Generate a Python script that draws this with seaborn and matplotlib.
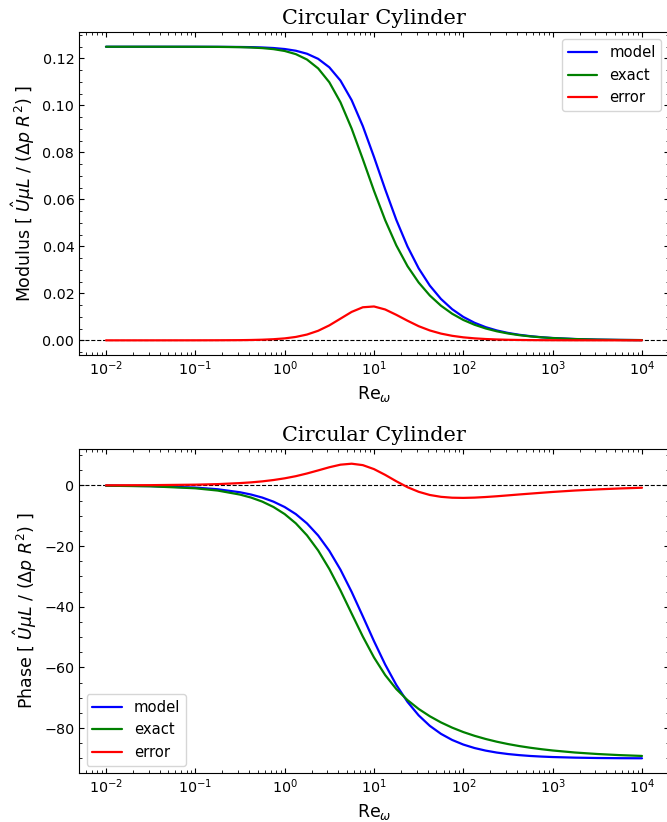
import matplotlib
matplotlib.use("Agg")
import matplotlib.pyplot as plt
from matplotlib.ticker import AutoMinorLocator
import seaborn as sns

sns.set_style("ticks", {"axes.edgecolor": "black", "text.color": "black",
                        "axes.labelcolor": "black", "xtick.color": "black",
                        "ytick.color": "black"})

# Re_omega sample points (log spaced)
re_omega = [0.01, 0.03162, 0.1, 0.1778, 0.3162, 0.4217, 0.5623, 0.7499, 1.0,
            1.334, 1.778, 2.371, 3.162, 4.217, 5.623, 7.499, 10.0, 13.34, 17.78,
            23.71, 31.62, 42.17, 56.23, 74.99, 100.0, 133.4, 177.8, 237.1, 316.2,
            421.7, 562.3, 749.9, 1000.0, 1778.0, 3162.0, 5623.0, 10000.0]

# modulus of U mu L / (dp R^2)
model_mod = [0.125, 0.125, 0.12499, 0.12497, 0.12490, 0.12483, 0.12469, 0.12445,
             0.12403, 0.12330, 0.12202, 0.11985, 0.11625, 0.11058, 0.10226, 0.09120,
             0.07809, 0.06431, 0.05128, 0.03996, 0.03066, 0.02330, 0.01761, 0.01326,
             0.00997, 0.00749, 0.00562, 0.00421, 0.00316, 0.00237, 0.00178, 0.00133,
             0.00100, 0.000562, 0.000316, 0.000178, 0.0001]
exact_mod = [0.125, 0.125, 0.12498, 0.12494, 0.12482, 0.12467, 0.12442, 0.12398,
             0.12320, 0.12185, 0.11955, 0.11578, 0.10988, 0.10134, 0.09015, 0.07712,
             0.06367, 0.05117, 0.04042, 0.03160, 0.02463, 0.01909, 0.01474, 0.01133,
             0.00868, 0.00664, 0.00506, 0.00385, 0.00292, 0.00221, 0.00168, 0.00127,
             0.000956, 0.000544, 0.000308, 0.000175, 0.0000986]
error_mod = [0.0, 0.0, 0.00001, 0.00003, 0.00008, 0.00015, 0.00027, 0.00048,
             0.00083, 0.00145, 0.00247, 0.00407, 0.00637, 0.00924, 0.01211, 0.01408,
             0.01442, 0.01314, 0.01086, 0.00836, 0.00603, 0.00421, 0.00287, 0.00193,
             0.00128, 0.00085, 0.00056, 0.00037, 0.00024, 0.00016, 0.00010, 0.000067,
             0.000044, 0.0000185, 0.0000078, 0.0000033, 0.0000014]

# phase in degrees
model_phase = [-0.07, -0.23, -0.72, -1.27, -2.26, -3.02, -4.02, -5.36, -7.13,
               -9.46, -12.53, -16.51, -21.57, -27.79, -35.10, -43.15, -51.34,
               -59.04, -65.78, -71.36, -75.80, -79.26, -81.90, -83.91, -85.43,
               -86.57, -87.42, -88.07, -88.55, -88.91, -89.19, -89.39, -89.54,
               -89.74, -89.86, -89.92, -89.95]
exact_phase = [-0.10, -0.30, -0.95, -1.70, -3.03, -4.02, -5.35, -7.12, -9.45,
               -12.51, -16.46, -21.45, -27.55, -34.62, -42.25, -49.82, -56.71,
               -62.51, -67.14, -70.77, -73.69, -76.10, -78.13, -79.85, -81.31,
               -82.54, -83.59, -84.49, -85.26, -85.92, -86.48, -86.96, -87.38,
               -88.05, -88.54, -88.91, -89.18]
error_phase = [0.02, 0.08, 0.24, 0.42, 0.76, 1.00, 1.33, 1.77, 2.33, 3.04, 3.93,
               4.94, 5.98, 6.83, 7.15, 6.68, 5.37, 3.47, 1.36, -0.59, -2.11, -3.16,
               -3.77, -4.06, -4.12, -4.03, -3.83, -3.58, -3.29, -2.99, -2.71, -2.43,
               -2.16, -1.69, -1.32, -1.01, -0.77]

TICKSIZE = 10.3
LABELSIZE = 12.5
TITLESIZE = 15
LEGENDSIZE = 10.6
ylab = r"[ $\hat{U}\mu L$ / ($\Delta p$ $R^2$) ]"

fig = plt.figure(figsize=(6.67, 8.22), dpi=100)
ax1 = fig.add_axes([0.1187, 0.5681, 0.8840, 0.3929])
ax2 = fig.add_axes([0.1187, 0.0596, 0.8840, 0.3942])


def draw(ax, model, exact, err, ylabel, legend_loc):
    sns.lineplot(x=re_omega, y=model, ax=ax, color="b", lw=1.6, label="model")
    sns.lineplot(x=re_omega, y=exact, ax=ax, color="g", lw=1.6, label="exact")
    sns.lineplot(x=re_omega, y=err, ax=ax, color="r", lw=1.6, label="error")
    ax.axhline(0, color="k", ls="--", lw=0.8, zorder=0)
    ax.set_xscale("log")
    ax.yaxis.set_minor_locator(AutoMinorLocator())
    ax.tick_params(which="both", direction="in", top=True, right=True,
                   labelsize=TICKSIZE)
    ax.set_xlabel(r"Re$_\omega$", fontsize=LABELSIZE)
    ax.set_ylabel(ylabel, fontsize=LABELSIZE)
    ax.set_title("Circular Cylinder", fontsize=TITLESIZE, family="serif")
    ax.legend(loc=legend_loc, fontsize=LEGENDSIZE)


draw(ax1, model_mod, exact_mod, error_mod, "Modulus " + ylab, "upper right")
draw(ax2, model_phase, exact_phase, error_phase, "Phase " + ylab, "lower left")

fig.savefig("out.png", dpi=100)
